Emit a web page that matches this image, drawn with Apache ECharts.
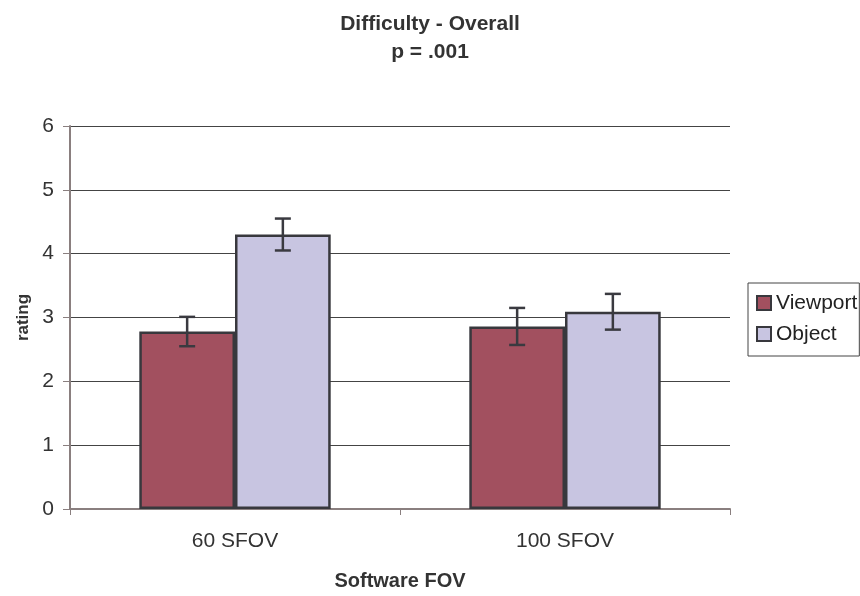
<!DOCTYPE html>
<html><head><meta charset="utf-8">
<script src="https://cdn.jsdelivr.net/npm/echarts@6/dist/echarts.min.js"></script>
<style>html,body{margin:0;padding:0;background:#fff;overflow:hidden}#c{width:860px;height:596px}</style>
</head><body><div id="c"></div>
<script>
const categories = ['60 SFOV', '100 SFOV'];
const viewport = [2.78, 2.86];
const viewportErr = [0.23, 0.29];
const object = [4.30, 3.09];
const objectErr = [0.25, 0.28];
const yTicks = [0, 1, 2, 3, 4, 5, 6];

const FONT = 'Liberation Sans, Arial, sans-serif';
const GAP = 0.42;

function errSeries(vals, errs, side) {
  return {
    type: 'custom',
    z: 10,
    silent: true,
    data: vals.map((v, i) => [i, v - errs[i], v + errs[i]]),
    renderItem: function (params, api) {
      const band = api.size([1, 0])[0];
      const bw = band * (1 - GAP) / 2;
      const lo = api.coord([api.value(0), api.value(1)]);
      const hi = api.coord([api.value(0), api.value(2)]);
      const x = lo[0] + side * bw / 2;
      const cap = 8;
      const st = { stroke: '#3a3a40', lineWidth: 2.5 };
      return {
        type: 'group',
        children: [
          { type: 'line', shape: { x1: x, y1: lo[1], x2: x, y2: hi[1] }, style: st },
          { type: 'line', shape: { x1: x - cap, y1: lo[1], x2: x + cap, y2: lo[1] }, style: st },
          { type: 'line', shape: { x1: x - cap, y1: hi[1], x2: x + cap, y2: hi[1] }, style: st }
        ]
      };
    }
  };
}

const chart = echarts.init(document.getElementById('c'));
chart.setOption({
  animation: false,
  backgroundColor: '#fff',
  textStyle: { fontFamily: FONT },
  title: {
    text: 'Difficulty - Overall\np = .001',
    left: 'center',
    top: 5,
    textStyle: { fontFamily: FONT, fontWeight: 'bold', fontSize: 21, color: '#333', lineHeight: 28 }
  },
  legend: {
    orient: 'vertical',
    left: 748,
    top: 283,
    padding: [8, 2, 10, 8],
    itemGap: 7,
    itemWidth: 14,
    itemHeight: 14,
    icon: 'rect',
    borderColor: '#444',
    borderWidth: 1,
    textStyle: { fontFamily: FONT, fontSize: 21, color: '#222', lineHeight: 24, padding: [0, 0, 0, 0] },
    data: ['Viewport', 'Object']
  },
  grid: { left: 70, width: 660, top: 126, height: 387 },
  xAxis: {
    type: 'category',
    data: categories,
    name: 'Software FOV',
    nameLocation: 'middle',
    nameGap: 62,
    nameTextStyle: { fontFamily: FONT, fontWeight: 'bold', fontSize: 20, color: '#333' },
    axisLine: { lineStyle: { color: '#8a7f7f', width: 2 } },
    axisTick: { show: true, length: 6, lineStyle: { color: '#8a7f7f', width: 1 } },
    axisLabel: { fontFamily: FONT, fontSize: 21, color: '#333', margin: 22 }
  },
  yAxis: {
    type: 'value',
    min: 0, max: 6, interval: 1,
    name: 'rating',
    nameLocation: 'middle',
    nameGap: 37,
    nameTextStyle: { fontFamily: FONT, fontWeight: 'bold', fontSize: 17, color: '#333' },
    axisLine: { show: true, lineStyle: { color: '#8a7f7f', width: 2 } },
    axisTick: { show: true, length: 7, lineStyle: { color: '#8a7f7f' } },
    axisLabel: { fontFamily: FONT, fontSize: 21, color: '#333', margin: 16,
      formatter: v => yTicks.includes(v) ? String(v) : '' },
    splitLine: { show: true, lineStyle: { color: '#444', width: 1 } }
  },
  series: [
    {
      name: 'Viewport', type: 'bar', data: viewport,
      barGap: '0%', barCategoryGap: (GAP * 100) + '%',
      itemStyle: { color: '#A2505F', borderColor: '#38383d', borderWidth: 2.5 }
    },
    {
      name: 'Object', type: 'bar', data: object,
      itemStyle: { color: '#C8C5E1', borderColor: '#38383d', borderWidth: 2.5 }
    },
    errSeries(viewport, viewportErr, -1),
    errSeries(object, objectErr, 1)
  ]
});
</script>
</body></html>
